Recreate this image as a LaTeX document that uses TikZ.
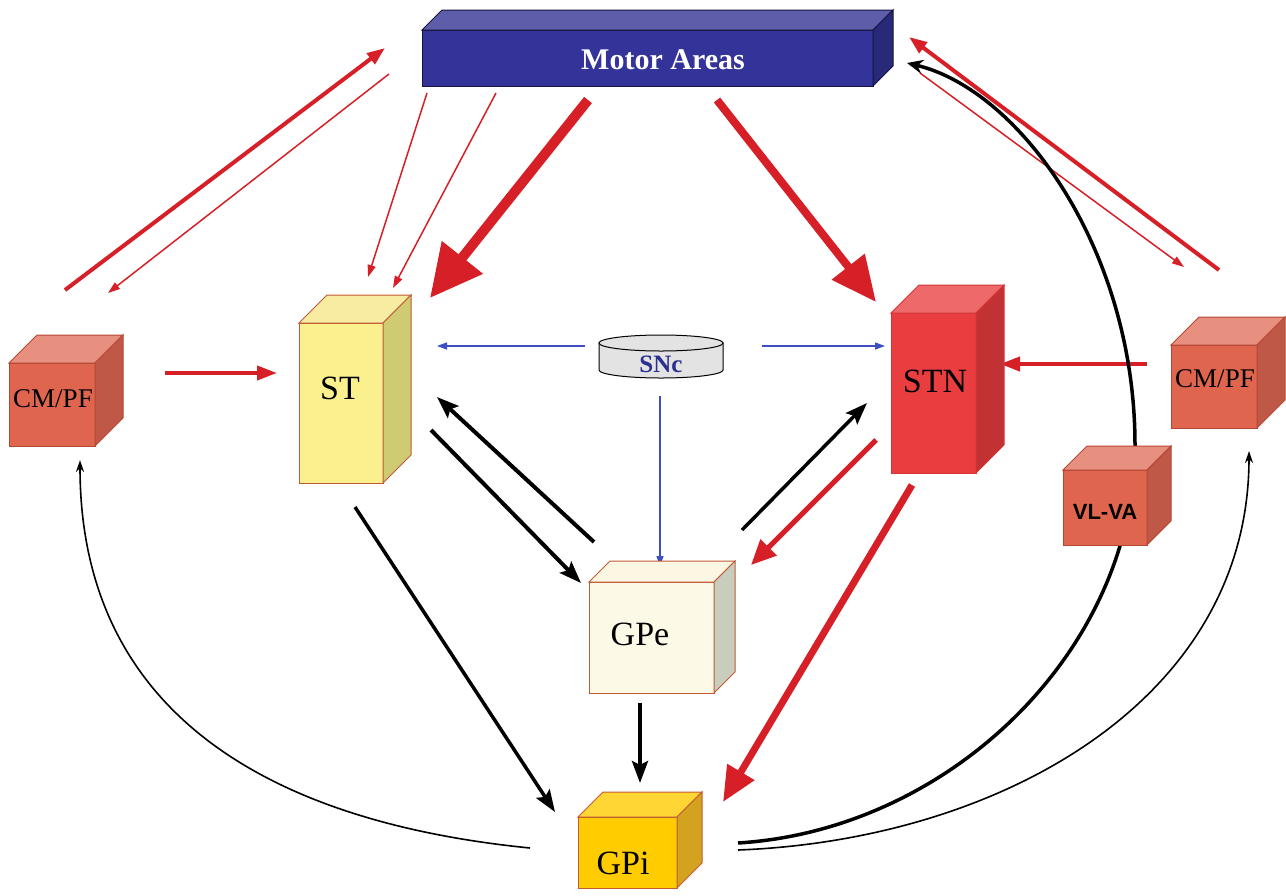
\documentclass[tikz,border=0pt]{standalone}
\usepackage{fontspec}
\setmainfont{Liberation Serif}
\newfontfamily\sanslabel{Liberation Sans}
\usetikzlibrary{arrows.meta,backgrounds}
\definecolor{motorblue}{HTML}{333399}
\definecolor{motortop}{HTML}{5D5DAA}
\definecolor{motorside}{HTML}{29297A}
\definecolor{motoredge}{HTML}{15153F}
\definecolor{stfront}{HTML}{FAF08E}
\definecolor{sttop}{HTML}{F8EBA2}
\definecolor{stside}{HTML}{CFCB72}
\definecolor{boxedge}{HTML}{C25A36}
\definecolor{stnfront}{HTML}{EA3D40}
\definecolor{stntop}{HTML}{EE6A6A}
\definecolor{stnside}{HTML}{C23234}
\definecolor{stnedge}{HTML}{D83335}
\definecolor{thalfront}{HTML}{E0654F}
\definecolor{thaltop}{HTML}{E8907F}
\definecolor{thalside}{HTML}{BF5846}
\definecolor{thaledge}{HTML}{B44733}
\definecolor{gpefront}{HTML}{FDF9E7}
\definecolor{gpetop}{HTML}{FCF7E3}
\definecolor{gpeside}{HTML}{C9CDBD}
\definecolor{gpifront}{HTML}{FFCC00}
\definecolor{gpitop}{HTML}{FFD633}
\definecolor{gpiside}{HTML}{D3A21E}
\definecolor{pathred}{HTML}{D61F26}
\definecolor{pathblue}{HTML}{3D4FC4}
\definecolor{sncblue}{HTML}{2B3090}
\definecolor{sncgrey}{HTML}{E3E3E3}

% top and side faces of a box whose front face is the node #1
\newcommand{\boxsides}[5]{%
  \filldraw[fill=#3,draw=#5,line width=1pt] (#1.north west) -- ([shift={(#2,-#2)}]#1.north west)
    -- ([shift={(#2,-#2)}]#1.north east) -- (#1.north east) -- cycle;
  \filldraw[fill=#4,draw=#5,line width=1pt] (#1.north east) -- ([shift={(#2,-#2)}]#1.north east)
    -- ([shift={(#2,-#2)}]#1.south east) -- (#1.south east) -- cycle;}

\begin{document}
\begin{tikzpicture}[x=1pt,y=-1pt,
    face/.style={draw,line width=1pt,inner sep=0pt,outer sep=0pt},
    lbl/.style={inner sep=0pt,outer sep=0pt},
    boxtext/.style={lbl,font=\fontsize{34}{34}\selectfont},
    rthin/.style={draw=pathred,line width=1.5pt,-{Triangle[length=12pt,width=8pt]}},
    rthick/.style={draw=pathred,line width=4pt,-{Triangle[length=18pt,width=13pt]}},
    bthick/.style={draw=black,line width=4pt,-{Stealth[length=22pt,width=16pt,inset=4pt]}},
    bthin/.style={draw=black,line width=1.6pt,-{Stealth[length=12pt,width=8pt]}},
    dopa/.style={draw=pathblue,line width=1.3pt,-{Triangle[length=10pt,width=7pt]}}]
  \useasboundingbox (0,0) rectangle (1286,895);

  % cortex
  \node[face,draw=motoredge,fill=motorblue,minimum width=451pt,minimum height=56pt] (motor) at (647.5,58) {};
  \boxsides{motor}{20}{motortop}{motorside}{motoredge}
  \node[lbl,font=\bfseries\fontsize{30}{30}\selectfont,text=white] (motor-lbl)
    at ([shift={(15.5,2)}]motor.center) {Motor Areas};

  % thalamus
  \node[face,draw=thaledge,fill=thalfront,minimum width=86pt,minimum height=83pt] (cml) at (52,404.5) {};
  \boxsides{cml}{28}{thaltop}{thalside}{thaledge}
  \node[boxtext,font=\fontsize{27}{27}\selectfont] (cml-lbl) at ([shift={(1,-6)}]cml.center) {CM/PF};

  \node[face,draw=thaledge,fill=thalfront,minimum width=86pt,minimum height=83pt] (cmr) at (1214,386.5) {};
  \boxsides{cmr}{28}{thaltop}{thalside}{thaledge}
  \node[boxtext,font=\fontsize{27}{27}\selectfont] (cmr-lbl) at ([shift={(1,-8)}]cmr.center) {CM/PF};

  % striatum and STN
  \node[face,draw=boxedge,fill=stfront,minimum width=84pt,minimum height=160pt] (st) at (341,403) {};
  \boxsides{st}{28}{sttop}{stside}{boxedge}
  \node[boxtext] (st-lbl) at ([shift={(-1,-15)}]st.center) {ST};

  \node[face,draw=stnedge,fill=stnfront,minimum width=85pt,minimum height=160pt] (stn) at (933.5,393) {};
  \boxsides{stn}{28}{stntop}{stnside}{stnedge}
  \node[boxtext] (stn-lbl) at ([shift={(1.5,-12)}]stn.center) {STN};

  % substantia nigra
  \node[lbl,minimum width=124pt,minimum height=27pt] (snc) at (661,356.5) {};
  \filldraw[fill=sncgrey,draw=black,line width=1pt] (snc.north west) -- (snc.south west)
    arc[start angle=180,end angle=0,x radius=62,y radius=8] -- (snc.north east) -- cycle;
  \filldraw[fill=sncgrey,draw=black,line width=1pt] (snc.north) ellipse[x radius=62,y radius=8];
  \node[lbl,font=\bfseries\fontsize{25}{25}\selectfont,text=sncblue] (snc-lbl)
    at ([shift={(0,7.5)}]snc.center) {SNc};

  % pallidum
  \node[face,draw=boxedge,fill=gpefront,minimum width=125pt,minimum height=111pt] (gpe) at (651.5,637.5) {};
  \boxsides{gpe}{21}{gpetop}{gpeside}{boxedge}
  \node[boxtext] (gpe-lbl) at ([shift={(-11.5,-3.5)}]gpe.center) {GPe};

  \node[face,draw=boxedge,fill=gpifront,minimum width=99pt,minimum height=71pt] (gpi) at (627.5,852.5) {};
  \boxsides{gpi}{25}{gpitop}{gpiside}{boxedge}
  \node[boxtext] (gpi-lbl) at ([shift={(-4.5,10.5)}]gpi.center) {GPi};

  \node[face,draw=thaledge,fill=thalfront,minimum width=84pt,minimum height=75pt] (vlva) at (1105,507.5) {};
  \boxsides{vlva}{24}{thaltop}{thalside}{thaledge}
  \node[lbl,font=\sanslabel\bfseries\fontsize{22}{22}\selectfont] (vlva-lbl)
    at ([shift={(0,4.5)}]vlva.center) {VL-VA};

  \begin{scope}[on background layer]
    % cortical loops
    \draw[rthick] ([shift={(13,-73)}]cml.north) -- ([shift={(-37,18)}]motor.north west);
    \draw[rthin] ([shift={(-33,16)}]motor.west) -- ([shift={(56,-70)}]cml.north);
    \draw[rthin] ([shift={(5,7)}]motor.south west) -- ([shift={(27,-46)}]st.north);
    \draw[rthin] ([shift={(74,7)}]motor.south west) -- ([shift={(10,-35)}]st.north east);
    \draw[draw=pathred,line width=10pt,-{Triangle[length=52pt,width=50pt]}]
      ([shift={(-59.5,14)}]motor.south) -- ([shift={(47,-25)}]st.north east);
    \draw[draw=pathred,line width=8pt,-{Triangle[length=45pt,width=40pt]}]
      ([shift={(69.5,14)}]motor.south) -- ([shift={(-15,-11)}]stn.north west);
    \draw[rthick] ([shift={(5,-75)}]cmr.north) -- ([shift={(36,7)}]motor.north east);
    \draw[rthin] ([shift={(47,15)}]motor.east) -- ([shift={(-30,-78)}]cmr.north);

    % thalamic input
    \draw[draw=pathred,line width=4pt,-{Triangle[length=20pt,width=14pt]}]
      ([shift={(70,-31.5)}]cml.east) -- ([shift={(-22,-30)}]st.west);
    \draw[draw=pathred,line width=4pt,-{Triangle[length=20pt,width=14pt]}]
      ([shift={(-24,-22.5)}]cmr.west) -- ([shift={(24,-29)}]stn.east);

    % dopamine
    \draw[dopa] ([shift={(-14,-10.5)}]snc.west) -- ([shift={(54,-57)}]st.east);
    \draw[dopa] ([shift={(39,-10.5)}]snc.east) -- ([shift={(-6,-47)}]stn.west);
    \draw[dopa] ([shift={(-1,26)}]snc.south) -- ([shift={(8.5,-16)}]gpe.north);

    % basal ganglia
    \draw[bthick] ([shift={(5,-40)}]gpe.north west) -- ([shift={(54,-6)}]st.east);
    \draw[bthick] ([shift={(48,27)}]st.east) -- ([shift={(-8,1)}]gpe.north west);
    \draw[bthick,line width=3.5pt] ([shift={(28,-52)}]gpe.north east) -- ([shift={(-24,10)}]stn.west);
    \draw[draw=pathred,line width=5pt,-{Triangle[length=25pt,width=22pt]}]
      ([shift={(-15,47)}]stn.west) -- ([shift={(37,-17)}]gpe.north east);
    \draw[draw=pathred,line width=7pt,-{Triangle[length=35pt,width=30pt]}]
      ([shift={(-21.5,12)}]stn.south) -- ([shift={(46,-15)}]gpi.north east);
    \draw[bthick,line width=3.5pt] ([shift={(14,24)}]st.south) -- ([shift={(-23,-40.5)}]gpi.west);
    \draw[bthick] ([shift={(-11.5,10)}]gpe.south) -- ([shift={(12.5,-34)}]gpi.north);

    % output to thalamus
    \draw[bthin] ([shift={(-48,-4.5)}]gpi.west) .. controls (250,820) and (80,700) .. ([shift={(28,14)}]cml.south);
    \draw[bthin] ([shift={(61,-2.5)}]gpi.east) .. controls (1000,840) and (1249,700) .. ([shift={(35,23)}]cmr.south);
    \draw[draw=black,line width=3.5pt,-{Stealth[length=16pt,width=14pt]}]
      ([shift={(61,-9.5)}]gpi.east) .. controls (950,830) and (1135,650) .. (1135,445)
      .. controls (1135,250) and (1020,90) .. ([shift={(34,5)}]motor.east);
  \end{scope}
\end{tikzpicture}
\end{document}
